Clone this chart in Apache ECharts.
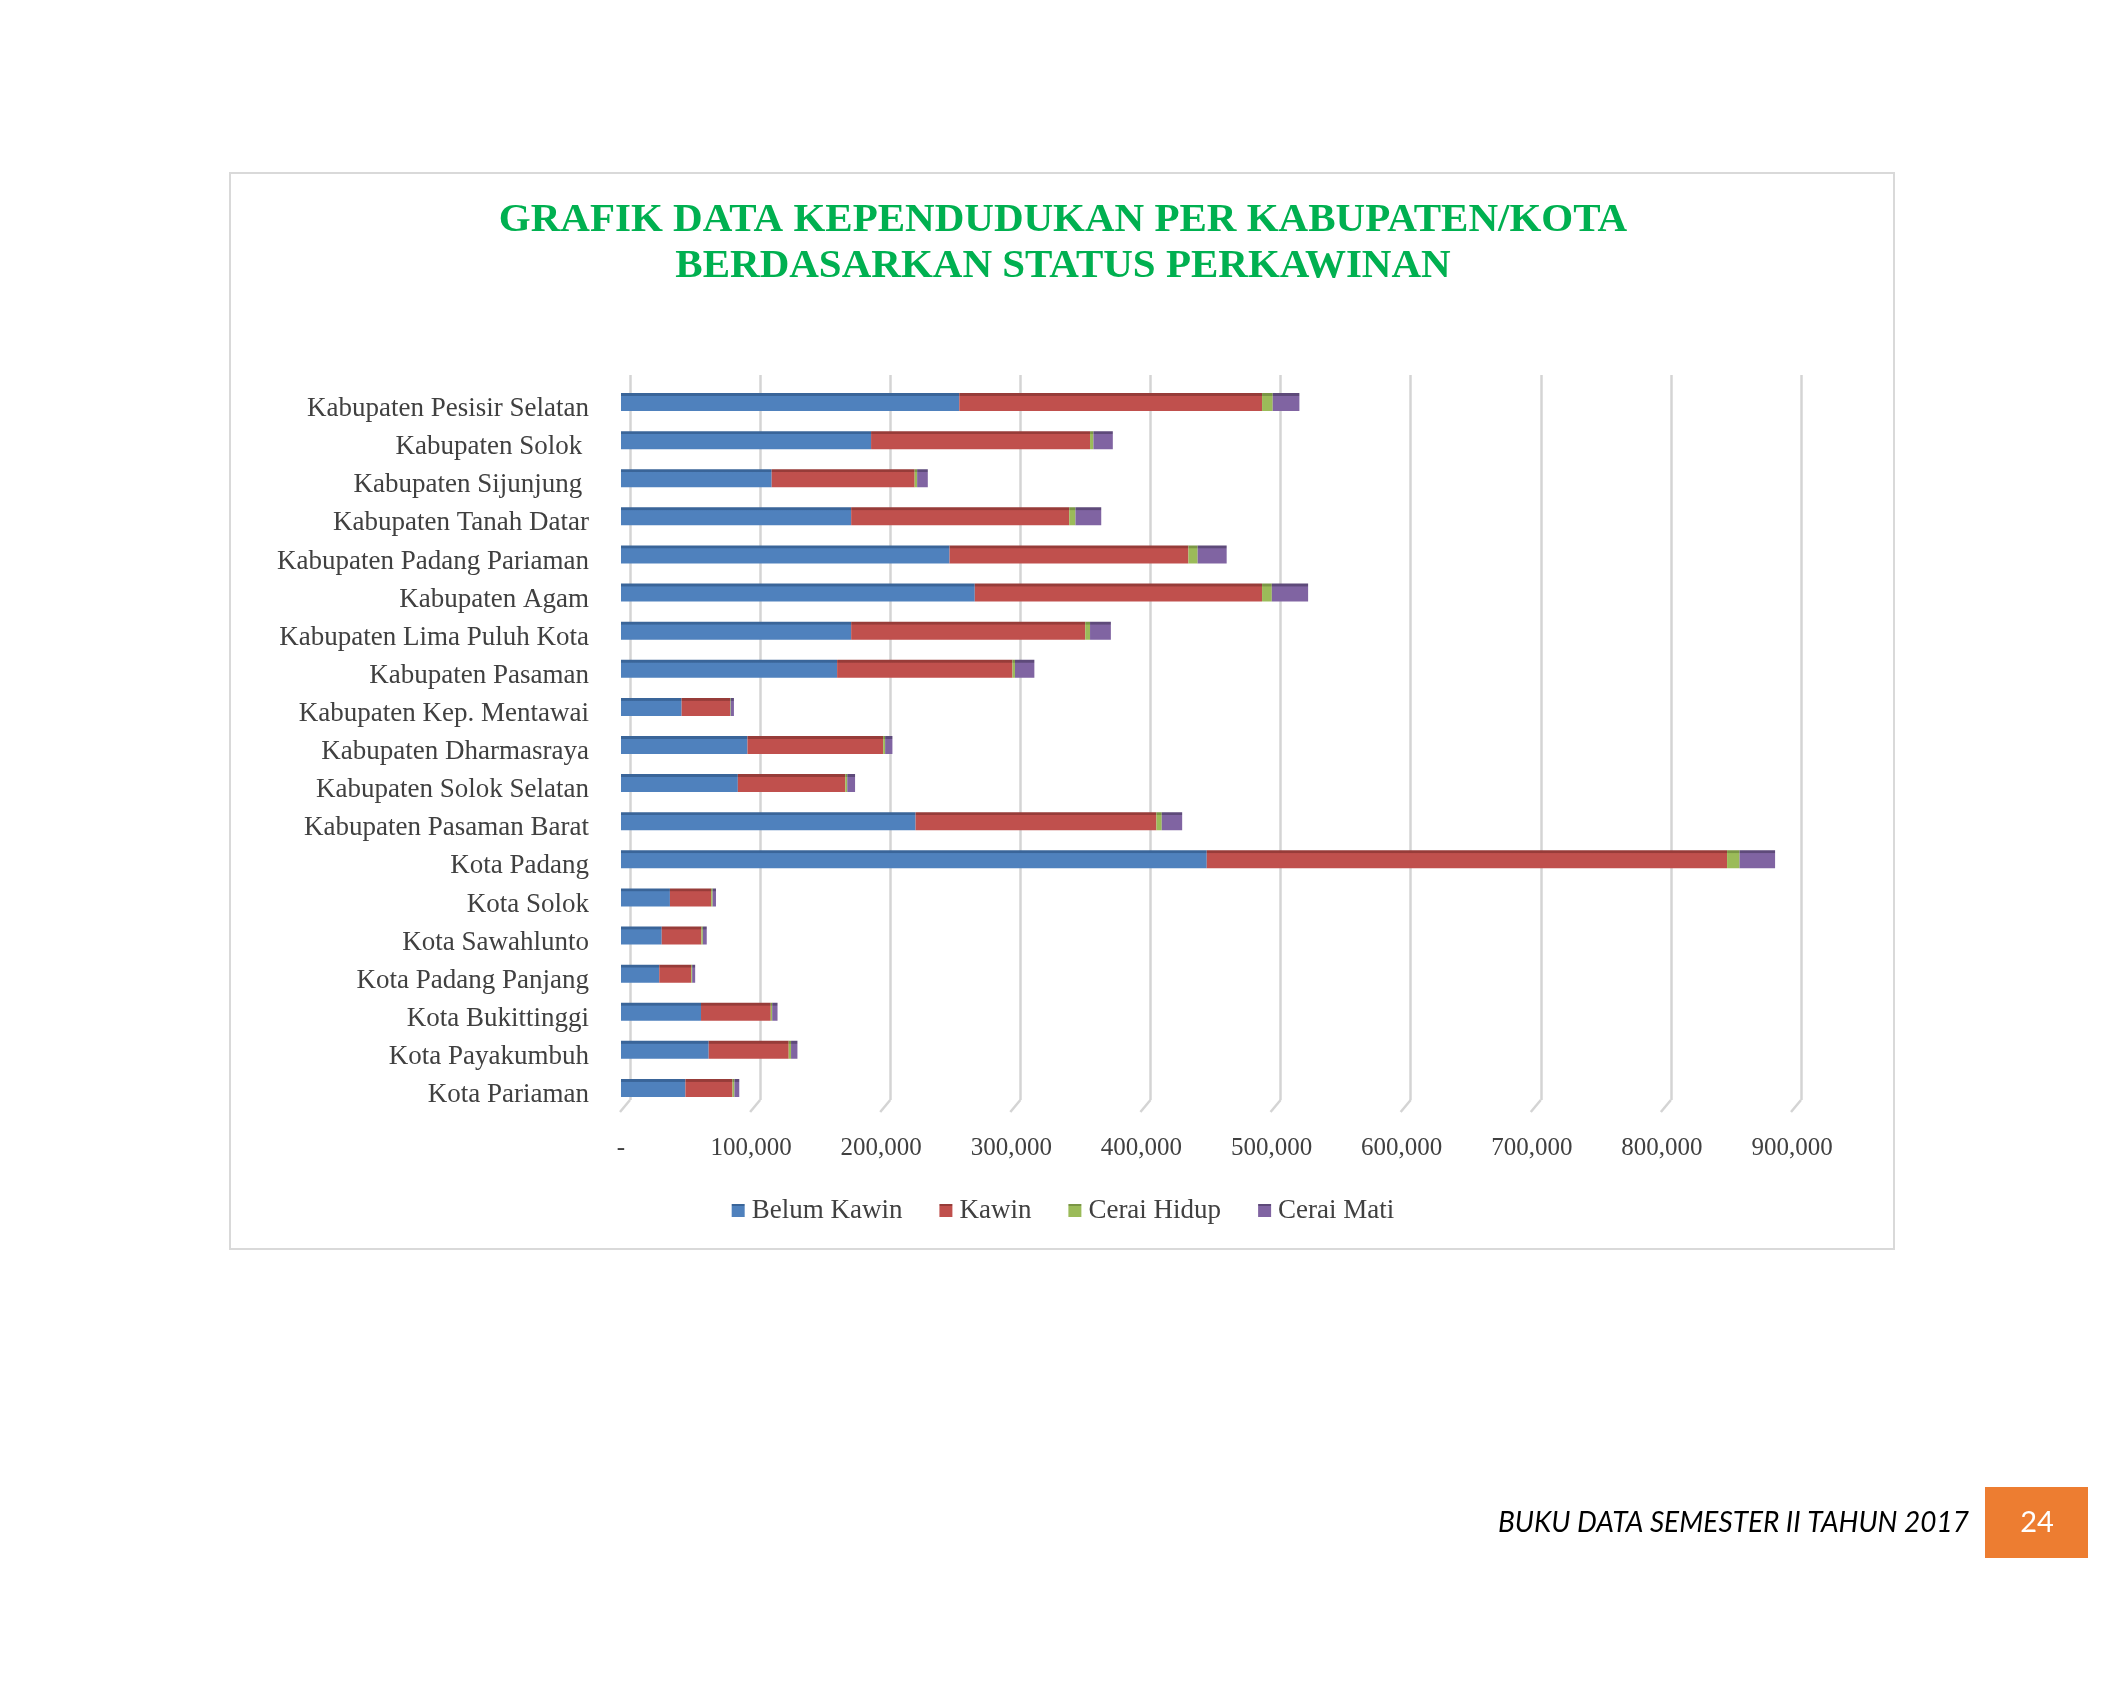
<!DOCTYPE html>
<html>
<head>
<meta charset="utf-8">
<title>Grafik Data Kependudukan</title>
<script src="https://cdn.jsdelivr.net/npm/echarts@6/dist/echarts.min.js"></script>
<style>
  html, body { margin: 0; padding: 0; background: #fff; }
  #chart { width: 2126px; height: 1694px; }
</style>
</head>
<body>
<div id="chart"></div>
<script>
// kabupaten / kota, from top to bottom
const regions = [
  'Kabupaten Pesisir Selatan', 'Kabupaten Solok ', 'Kabupaten Sijunjung ', 'Kabupaten Tanah Datar',
  'Kabupaten Padang Pariaman', 'Kabupaten Agam', 'Kabupaten Lima Puluh Kota', 'Kabupaten Pasaman',
  'Kabupaten Kep. Mentawai', 'Kabupaten Dharmasraya', 'Kabupaten Solok Selatan', 'Kabupaten Pasaman Barat',
  'Kota Padang', 'Kota Solok', 'Kota Sawahlunto', 'Kota Padang Panjang',
  'Kota Bukittinggi', 'Kota Payakumbuh', 'Kota Pariaman'
]

// nilai (perkiraan)
const belumKawin = [260000, 192200, 115800, 176900, 252500, 271900, 176900, 166100, 46600, 97200, 89800, 226400, 450200, 37600, 31300, 29400, 61500, 67400, 49500]
const kawin      = [232700, 168300, 109900, 167600, 183600, 220800, 179900, 134800, 37200, 104300, 82600, 185100, 399900, 31700, 30500, 24600, 53600, 61500, 36200]
const ceraiHidup = [8200, 2600, 1900, 4800, 7100, 7500, 3700, 1900, 500, 1500, 1500, 4100, 9600, 1100, 1100, 700, 1100, 1800, 1500]
const ceraiMati  = [20500, 14900, 8200, 19800, 22300, 27900, 16000, 14900, 2500, 5600, 6000, 15700, 27300, 2600, 3000, 2300, 4100, 4900, 3700]

const seriesNames = ['Belum Kawin', 'Kawin', 'Cerai Hidup', 'Cerai Mati']
const xTicks = [0, 100000, 200000, 300000, 400000, 500000, 600000, 700000, 800000, 900000]

const chart = echarts.init(document.getElementById('chart'))

const serif = '"Liberation Serif", "DejaVu Serif", serif'

// batang dengan sisi atas lebih gelap (meniru efek 3D)
const barColor = (dark, base) => new echarts.graphic.LinearGradient(0, 0, 0, 1, [
  { offset: 0, color: dark },
  { offset: 0.14, color: dark },
  { offset: 0.18, color: base },
  { offset: 1, color: base }
])

const mkSeries = (name, data, dark, base) => ({
  name,
  type: 'bar',
  stack: 'total',
  barWidth: 18,
  data,
  itemStyle: { color: barColor(dark, base) }
})

const titleStyle = {
  fontFamily: serif,
  fontWeight: 'bold',
  fontSize: 41,
  color: '#00B050'
}

const option = {
  animation: false,
  color: ['#4F81BD', '#C0504D', '#9BBB59', '#8064A2'],
  title: [
    { text: 'GRAFIK DATA KEPENDUDUKAN PER KABUPATEN/KOTA', left: 'center', top: 200, padding: 0, textStyle: titleStyle },
    { text: 'BERDASARKAN STATUS PERKAWINAN', left: 'center', top: 246, padding: 0, textStyle: titleStyle }
  ],
  legend: {
    data: seriesNames,
    left: 'center',
    top: 1192,
    icon: 'rect',
    itemWidth: 13,
    itemHeight: 13,
    itemGap: 37,
    textStyle: { fontFamily: serif, fontSize: 27, color: '#404040', padding: [0, 0, 0, 2] }
  },
  grid: [
    // barisan batang (bidang depan)
    { left: 621, right: 334, top: 383, bottom: 587 },
    // dinding belakang untuk garis kisi (efek 3D)
    { left: 630, right: 325, top: 375, bottom: 594 }
  ],
  xAxis: [
    {
      type: 'value',
      gridIndex: 0,
      min: 0,
      max: 900000,
      interval: 100000,
      axisLine: { show: false },
      axisTick: { show: false },
      splitLine: { show: false },
      axisLabel: {
        margin: 29,
        fontFamily: serif,
        fontSize: 25,
        color: '#404040',
        formatter: v => v === 0 ? '-' : v.toLocaleString('en-US')
      }
    },
    {
      type: 'value',
      gridIndex: 1,
      min: 0,
      max: 900000,
      interval: 100000,
      axisLine: { show: false },
      axisTick: { show: false },
      axisLabel: { show: false },
      splitLine: { show: true, lineStyle: { color: '#d4d4d4', width: 2.5 } }
    }
  ],
  yAxis: [
    {
      type: 'category',
      gridIndex: 0,
      inverse: true,
      data: regions,
      axisLine: { show: false },
      axisTick: { show: false },
      axisLabel: {
        margin: 32,
        fontFamily: serif,
        fontSize: 27,
        color: '#404040',
        verticalAlign: 'top',
        lineHeight: 14
      }
    },
    {
      type: 'category',
      gridIndex: 1,
      inverse: true,
      data: regions,
      show: false
    }
  ],
  series: [
    mkSeries('Belum Kawin', belumKawin, '#3A6599', '#4F81BD'),
    mkSeries('Kawin', kawin, '#973C39', '#C0504D'),
    mkSeries('Cerai Hidup', ceraiHidup, '#7A9645', '#9BBB59'),
    mkSeries('Cerai Mati', ceraiMati, '#5E4A7A', '#8064A2')
  ],
  graphic: [
    {
      id: 'frame',
      type: 'rect',
      shape: { x: 230, y: 173, width: 1664, height: 1076 },
      style: { fill: 'none', stroke: '#d9d9d9', lineWidth: 2 },
      z: -10
    },
    {
      id: 'footer',
      type: 'text',
      x: 1969,
      y: 1523,
      style: {
        text: 'BUKU DATA SEMESTER II TAHUN 2017',
        fontFamily: 'Lato, "Open Sans", sans-serif',
        fontStyle: 'italic',
        fontSize: 28,
        fill: '#000',
        align: 'right',
        verticalAlign: 'middle'
      }
    },
    {
      id: 'pageBox',
      type: 'rect',
      shape: { x: 1985, y: 1487, width: 103, height: 71 },
      style: { fill: '#ED7D31' }
    },
    {
      id: 'pageNum',
      type: 'text',
      x: 2037,
      y: 1523,
      style: {
        text: '24',
        fontFamily: 'Lato, "Open Sans", sans-serif',
        fontSize: 29,
        fill: '#fff',
        align: 'center',
        verticalAlign: 'middle'
      }
    }
  ]
}

chart.setOption(option)

// kaki miring garis kisi di lantai (efek 3D), posisi dari skala sumbu
const feet = xTicks.map((v, i) => {
  const x = chart.convertToPixel({ xAxisIndex: 1 }, v)
  return {
    id: 'foot' + i,
    type: 'line',
    shape: { x1: x, y1: 1100, x2: x - 10, y2: 1112 },
    style: { stroke: '#d4d4d4', lineWidth: 2.5 },
    z: -5
  }
})
chart.setOption({ graphic: feet })
</script>
</body>
</html>
